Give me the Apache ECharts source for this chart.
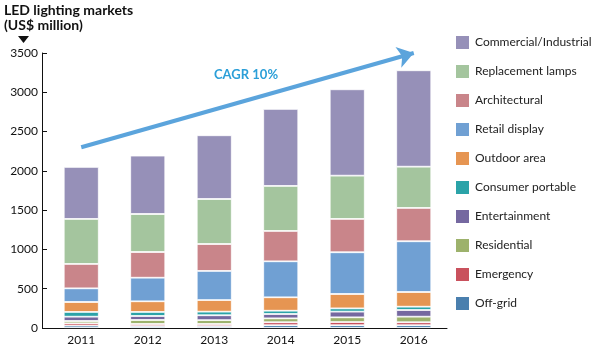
<!DOCTYPE html>
<html><head><meta charset="utf-8">
<script src="https://cdn.jsdelivr.net/npm/echarts@6/dist/echarts.min.js"></script>
<style>html,body{margin:0;padding:0;background:#fff}#c{width:600px;height:349px}</style>
</head><body><div id="c"></div>
<script>
const categories = ['2011','2012','2013','2014','2015','2016'];
const offGrid      = [30, 25, 25, 35, 35, 35];
const emergency    = [30, 26, 26, 38, 41, 38];
const residential  = [29, 51, 49, 50, 60, 71];
const entertainment= [55, 51, 62, 55, 72, 85];
const consumerPortable = [60, 51, 46, 42, 42, 42];
const outdoorArea  = [127, 136, 148, 171, 183, 187];
const retailDisplay= [174, 300, 370, 458, 531, 646];
const architectural= [310, 327, 343, 386, 424, 424];
const replacementLamps = [573, 484, 573, 573, 551, 525];
const commercialIndustrial = [662, 743, 811, 980, 1099, 1227];
const yTicks = [0, 500, 1000, 1500, 2000, 2500, 3000, 3500];
const cagrStart = ['2011', 2300];
const cagrEnd = ['2016', 3500];

const seriesDefs = [
  ['Off-grid', offGrid, '#4a7fae'],
  ['Emergency', emergency, '#c9515d'],
  ['Residential', residential, '#9db26c'],
  ['Entertainment', entertainment, '#7568a0'],
  ['Consumer portable', consumerPortable, '#2ba3a8'],
  ['Outdoor area', outdoorArea, '#e69552'],
  ['Retail display', retailDisplay, '#70a0d3'],
  ['Architectural', architectural, '#c9858a'],
  ['Replacement lamps', replacementLamps, '#a4c59e'],
  ['Commercial/Industrial', commercialIndustrial, '#9690b8']
];
const FONT = 'Lato';
const chart = echarts.init(document.getElementById('c'));
const series = seriesDefs.map((d, i) => {
  const s = {
    name: d[0], type: 'bar', stack: 'total', data: d[1], barWidth: 35,
    itemStyle: { color: d[2], borderColor: '#fff', borderWidth: 0.8 },
    emphasis: { disabled: true }, animation: false
  };
  if (i === 0) {
    s.markLine = {
      silent: true, animation: false,
      symbol: ['none', 'arrow'], symbolSize: [16, 16],
      lineStyle: { color: '#5ba4dc', width: 4, type: 'solid' },
      label: { show: false },
      data: [[{ coord: cagrStart }, { coord: cagrEnd }]]
    };
  }
  return s;
});
chart.setOption({
  animation: false,
  title: {
    text: 'LED lighting markets\n(US$ million)', left: 4, top: 3, padding: 0,
    textStyle: { fontFamily: FONT, fontSize: 14, fontWeight: 'bold', color: '#111', lineHeight: 15 }
  },
  legend: {
    orient: 'vertical', left: 454, top: 34, padding: 0, itemWidth: 15, itemHeight: 15, itemGap: 12,
    icon: 'rect', selectedMode: false,
    data: seriesDefs.map(d => d[0]).reverse(),
    textStyle: { fontFamily: FONT, fontSize: 12, color: '#222' }
  },
  grid: { left: 48, right: 153, top: 53, bottom: 21, containLabel: false },
  xAxis: {
    type: 'category', data: categories,
    axisLine: { lineStyle: { color: '#111', width: 1 } },
    axisTick: { show: false },
    axisLabel: { fontFamily: FONT, fontSize: 12, color: '#111', margin: 6 }
  },
  yAxis: {
    type: 'value', min: 0, max: 3500, interval: 500, offset: 6,
    axisLine: { show: true, lineStyle: { color: '#111', width: 1 } },
    axisTick: { show: true, inside: true, length: 5, lineStyle: { color: '#111' } },
    splitLine: { show: false },
    axisLabel: { fontFamily: FONT, fontSize: 12, color: '#111', margin: 4,
      formatter: v => yTicks.includes(v) ? String(v) : '' }
  },
  graphic: [
    { type: 'line', shape: { x1: 42, y1: 328.5, x2: 49, y2: 328.5 }, style: { stroke: '#111', lineWidth: 1 } },
    { type: 'polygon', shape: { points: [[18, 36], [29, 36], [23.5, 43]] }, style: { fill: '#111' } },
    { type: 'text', left: 214, top: 68, style: { text: 'CAGR 10%', fill: '#2b9fd8', font: 'bold 13px Lato' } }
  ],
  series: series
});
</script></body></html>
